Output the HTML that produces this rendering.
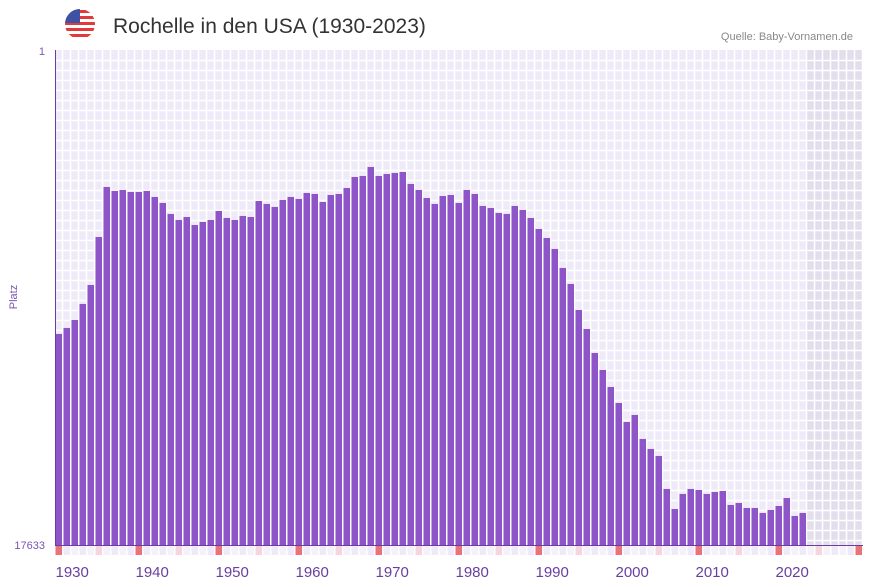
<!DOCTYPE html>
<html><head><meta charset="utf-8"><style>
body{margin:0;background:#fff;font-family:"Liberation Sans",sans-serif}
#c{position:relative;width:873px;height:587px;overflow:hidden}
</style></head><body>
<div id="c">
<svg id="s" width="873" height="587" xmlns="http://www.w3.org/2000/svg">
<defs><clipPath id="fc"><circle cx="80" cy="24" r="15"/></clipPath></defs>
<g clip-path="url(#fc)">
<rect x="65" y="9" width="30" height="30" fill="#fff"/>
<rect x="65" y="10" width="30" height="3" fill="#e4393a"/>
<rect x="65" y="16" width="30" height="3" fill="#e4393a"/>
<rect x="65" y="22" width="30" height="3" fill="#e4393a"/>
<rect x="65" y="28" width="30" height="3" fill="#e4393a"/>
<rect x="65" y="34" width="30" height="3" fill="#e4393a"/>
<rect x="65" y="9" width="15" height="14" fill="#3f51a3"/>
</g>
<text x="113" y="33" font-size="21" fill="#333">Rochelle in den USA (1930-2023)</text>
<text x="853" y="40" font-size="11" fill="#888" text-anchor="end">Quelle: Baby-Vornamen.de</text>
<rect x="55" y="50" width="808" height="495" fill="#efeaf8"/>
<rect x="807" y="50" width="56" height="495" fill="#e3deec"/>
<g id="grid"></g>
<g id="bars"></g>
<g id="strip"></g>
<line x1="55.5" y1="50" x2="55.5" y2="545" stroke="#6a3ea0" stroke-width="1"/>
<line x1="55" y1="545.5" x2="863" y2="545.5" stroke="#6a3ea0" stroke-width="1"/>
<text x="45" y="55" font-size="11" fill="#7a55b0" text-anchor="end">1</text>
<text x="45" y="549" font-size="11" fill="#7a55b0" text-anchor="end">17633</text>
<text transform="translate(17,297) rotate(-90)" font-size="11" fill="#7a55b0" text-anchor="middle">Platz</text>
<g id="xt"></g>
</svg>
</div>
<script>
const years=[];for(let y=1930;y<=2023;y++)years.push(y);
const ranks=[10116,9902,9617,9047,8371,6661,4880,5022,4987,5058,5058,5022,5236,5450,5842,6055,5949,6234,6127,6055,5735,5984,6055,5913,5949,5379,5485,5592,5343,5236,5307,5094,5129,5414,5165,5129,4916,4524,4488,4168,4488,4417,4381,4346,4773,4987,5272,5485,5201,5165,5450,4987,5129,5557,5628,5806,5842,5557,5699,5984,6376,6697,7088,7765,8335,9261,9938,10793,11398,12004,12574,13251,13001,13856,14212,14462,15637,16350,15815,15637,15673,15815,15744,15708,16207,16136,16314,16314,16492,16385,16243,15958,16599,16492];
const xTicks=[1930,1940,1950,1960,1970,1980,1990,2000,2010,2020];
const NS="http://www.w3.org/2000/svg";
const x0=55,slot=8,yTop=50,yBot=545,maxRank=17633,firstYear=1930,lastYear=2030;
const xs=yr=>x0+(yr-firstYear)*slot;
const ys=r=>yTop+(r-1)/(maxRank-1)*(yBot-yTop);
function mk(t,a){const e=document.createElementNS(NS,t);for(const k in a)e.setAttribute(k,a[k]);return e;}
const grid=document.getElementById('grid');
for(let yr=firstYear;yr<=lastYear+1;yr++){const l=mk('line',{x1:xs(yr)-0.5,x2:xs(yr)-0.5,y1:yTop,y2:yBot,stroke:'#fff','stroke-width':1.5});

grid.appendChild(l);}
for(let y=yTop+10;y<yBot;y+=10){const l=mk('line',{x1:x0,x2:863,y1:y+0.5,y2:y+0.5,stroke:'#fff','stroke-width':1.5});

grid.appendChild(l);}
const bars=document.getElementById('bars');
years.forEach((yr,i)=>{const y=ys(ranks[i]);const r=mk('rect',{x:xs(yr)+0.5,y:y,width:slot-1.5,height:yBot-y,fill:'#8e55c8'});

bars.appendChild(r);});
const strip=document.getElementById('strip');
for(let yr=firstYear;yr<=lastYear;yr++){let c=(yr%10===0)?'#e8747a':(yr%5===0?'#f5d6de':(yr%2?'#efeaf8':'#f5f1fb'));
const r=mk('rect',{x:xs(yr)+0.5,y:546,width:slot-1.5,height:9,fill:c});

strip.appendChild(r);}
const xt=document.getElementById('xt');
xTicks.forEach(yr=>{const t=mk('text',{x:xs(yr)+0.5,y:577,'font-size':15,fill:'#6a3ea0'});t.textContent=yr;

xt.appendChild(t);});
</script>
</body></html>
